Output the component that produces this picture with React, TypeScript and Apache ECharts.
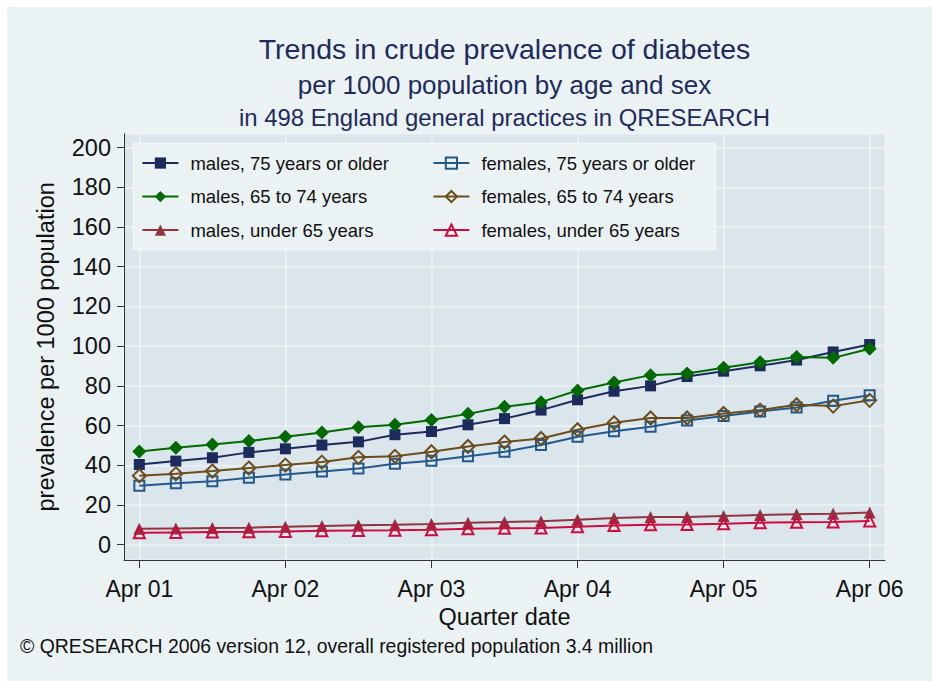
import React, { useEffect, useRef } from "react";
import * as echarts from "echarts";

// ---- data ----
const quarters = [
  "Apr 01", "Jul 01", "Oct 01", "Jan 02",
  "Apr 02", "Jul 02", "Oct 02", "Jan 03",
  "Apr 03", "Jul 03", "Oct 03", "Jan 04",
  "Apr 04", "Jul 04", "Oct 04", "Jan 05",
  "Apr 05", "Jul 05", "Oct 05", "Jan 06",
  "Apr 06",
];
const xTickLabels = ["Apr 01", "Apr 02", "Apr 03", "Apr 04", "Apr 05", "Apr 06"];
const yTicks = [0, 20, 40, 60, 80, 100, 120, 140, 160, 180, 200];

const males75 = [40.4, 42.1, 43.8, 46.5, 48.3, 50.2, 51.8, 55.4, 57.0, 60.4, 63.5, 67.8, 73.0, 77.3, 80.0, 84.7, 87.4, 90.1, 93.0, 97.1, 100.8];
const females75 = [29.7, 30.9, 31.9, 33.7, 35.4, 36.9, 38.4, 40.8, 42.3, 44.5, 46.8, 50.2, 54.4, 57.2, 59.4, 62.6, 64.8, 67.1, 69.1, 72.5, 75.3];
const males6574 = [47.0, 48.8, 50.5, 52.2, 54.4, 56.5, 59.2, 60.4, 62.8, 65.9, 69.5, 71.8, 77.7, 81.7, 85.4, 86.2, 89.1, 91.9, 94.6, 94.1, 98.7];
const females6574 = [34.7, 35.7, 37.1, 38.6, 40.1, 41.6, 44.0, 44.5, 46.8, 49.5, 51.7, 53.5, 57.9, 61.4, 63.8, 63.8, 66.1, 67.8, 70.5, 69.8, 72.7];
const malesU65 = [8.0, 8.2, 8.4, 8.6, 9.0, 9.4, 9.8, 10.0, 10.4, 11.0, 11.5, 11.8, 12.6, 13.4, 13.9, 14.0, 14.5, 15.0, 15.4, 15.6, 16.2];
const femalesU65 = [6.0, 6.2, 6.4, 6.5, 6.7, 7.0, 7.2, 7.3, 7.5, 8.0, 8.3, 8.4, 9.1, 9.7, 10.0, 10.2, 10.5, 11.1, 11.3, 11.4, 12.0];

const seriesNames = [
  "males, 75 years or older",
  "females, 75 years or older",
  "males, 65 to 74 years",
  "females, 65 to 74 years",
  "males, under 65 years",
  "females, under 65 years",
];
const seriesValues = [males75, females75, males6574, females6574, malesU65, femalesU65];

const FONT = "'Liberation Sans', Arial, Helvetica, sans-serif";
const TITLE_COLOR = "#1e2b5c";

export default function App() {
  const ref = useRef<HTMLDivElement>(null);

  useEffect(() => {
    if (!ref.current) return;
    const chart = echarts.init(ref.current, null, { renderer: "svg" });

    const xTickIdx = xTickLabels.map((l) => quarters.indexOf(l));

    const styles = [
      { color: "#1c2b5b", symbol: "rect", size: 11, hollow: false },
      { color: "#23598a", symbol: "rect", size: 10, hollow: true },
      { color: "#006a00", symbol: "diamond", size: 14, hollow: false },
      { color: "#6b4d1c", symbol: "diamond", size: 13, hollow: true },
      { color: "#8f3441", symbol: "triangle", size: 12, hollow: false },
      { color: "#cc0c3e", symbol: "triangle", size: 11, hollow: true },
    ];

    const series = seriesNames.map((name, k) => {
      const s = styles[k];
      return {
        type: "line",
        name,
        data: quarters.map((q, i) => [i, seriesValues[k][i]]),
        symbol: s.symbol,
        symbolSize: s.size,
        showAllSymbol: true,
        lineStyle: { color: s.color, width: 2 },
        itemStyle: s.hollow
          ? { color: "rgba(0,0,0,0)", borderColor: s.color, borderWidth: 2 }
          : { color: s.color, borderColor: s.color, borderWidth: 0 },
        emphasis: { disabled: true },
        z: 3,
      };
    });

    const option: any = {
      animation: false,
      backgroundColor: "#eaf2f3",
      textStyle: { fontFamily: FONT },
      title: [
        {
          text: "Trends in crude prevalence of diabetes",
          left: 497.5,
          top: 27,
          textAlign: "center",
          padding: 0,
          textStyle: { fontSize: 28.5, fontWeight: "normal", color: TITLE_COLOR, fontFamily: FONT },
        },
        {
          text: "per 1000 population by age and sex",
          left: 497.5,
          top: 65,
          textAlign: "center",
          padding: 0,
          textStyle: { fontSize: 26, fontWeight: "normal", color: TITLE_COLOR, fontFamily: FONT },
        },
        {
          text: "in 498 England general practices in QRESEARCH",
          left: 497.5,
          top: 98,
          textAlign: "center",
          padding: 0,
          textStyle: { fontSize: 23.9, fontWeight: "normal", color: TITLE_COLOR, fontFamily: FONT },
        },
        {
          text: "© QRESEARCH 2006 version 12, overall registered population 3.4 million",
          left: 13,
          top: 629.5,
          padding: 0,
          textStyle: { fontSize: 19.4, fontWeight: "normal", color: "#111", fontFamily: FONT },
        },
      ],
      legend: {
        data: seriesNames,
        orient: "horizontal",
        left: 126.4,
        top: 136.3,
        width: 600,
        itemWidth: 36,
        itemHeight: 14,
        itemGap: 10,
        padding: [8, 2, 8, 8],
        backgroundColor: "#eaf2f3",
        borderColor: "#f6fafb",
        borderWidth: 1,
        borderRadius: 0,
        textStyle: {
          fontSize: 18.5,
          color: "#111",
          width: 232,
          height: 23.5,
          lineHeight: 23.5,
          padding: [0, 0, 0, 7],
          fontFamily: FONT,
        },
      },
      grid: {
        left: 117,
        top: 126.7,
        width: 761,
        height: 426.3,
        show: true,
        backgroundColor: "#dbe6ec",
        borderColor: "#f3f7f9",
        borderWidth: 1,
      },
      xAxis: {
        type: "value",
        min: -0.42,
        max: 20.42,
        name: "Quarter date",
        nameLocation: "middle",
        nameGap: 43,
        nameTextStyle: { fontSize: 23.5, color: "#111", fontFamily: FONT },
        axisLine: { show: true, onZero: false, lineStyle: { color: "#333", width: 1 } },
        axisTick: { show: true, length: 8, customValues: xTickIdx, lineStyle: { color: "#333" } },
        axisLabel: {
          customValues: xTickIdx,
          margin: 17,
          fontSize: 23,
          color: "#111",
          fontFamily: FONT,
          formatter: (v: number) => quarters[Math.round(v)] ?? "",
        },
        splitLine: { show: true, lineStyle: { color: "#eef3f6", width: 1.5 } },
      },
      yAxis: {
        type: "value",
        min: -7.7,
        max: 207,
        name: "prevalence per 1000 population",
        nameLocation: "middle",
        nameGap: 66,
        nameTextStyle: { fontSize: 23.5, color: "#111", fontFamily: FONT },
        axisLine: { show: true, onZero: false, lineStyle: { color: "#333", width: 1 } },
        axisTick: { show: true, length: 7, customValues: yTicks, lineStyle: { color: "#333" } },
        axisLabel: {
          customValues: yTicks,
          margin: 13,
          fontSize: 23.5,
          color: "#111",
          fontFamily: FONT,
        },
        splitLine: { show: true, lineStyle: { color: "#eef3f6", width: 1.5 } },
      },
      series,
    };

    chart.setOption(option);
    return () => chart.dispose();
  }, []);

  return (
    <div
      ref={ref}
      style={{
        position: "fixed",
        left: 7,
        top: 7,
        width: 935,
        height: 684,
        background: "#eaf2f3",
      }}
    />
  );
}
